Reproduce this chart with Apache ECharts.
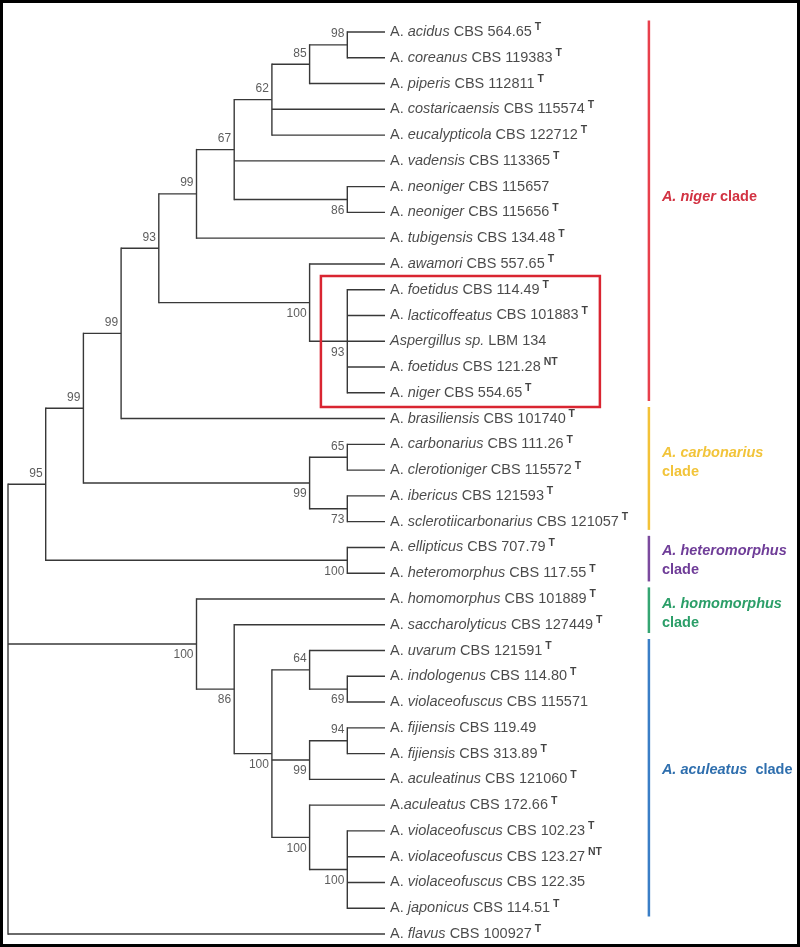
<!DOCTYPE html>
<html><head><meta charset="utf-8">
<script src="https://cdn.jsdelivr.net/npm/echarts@6/dist/echarts.min.js"></script>
<style>html,body{margin:0;padding:0;background:#fff}#c{width:800px;height:947px}</style>
</head><body><div id="c"></div>
<script>
// ---------- DATA ----------
const leafPrefix = ['A. ','A. ','A. ','A. ','A. ','A. ','A. ','A. ','A. ','A. ','A. ','A. ','','A. ','A. ','A. ','A. ','A. ','A. ','A. ','A. ','A. ','A. ','A. ','A. ','A. ','A. ','A. ','A. ','A. ','A.','A. ','A. ','A. ','A. ','A. '];
const leafEpithet = ['acidus','coreanus','piperis','costaricaensis','eucalypticola','vadensis','neoniger','neoniger','tubigensis','awamori','foetidus','lacticoffeatus','Aspergillus sp.','foetidus','niger','brasiliensis','carbonarius','clerotioniger','ibericus','sclerotiicarbonarius','ellipticus','heteromorphus','homomorphus','saccharolyticus','uvarum','indologenus','violaceofuscus','fijiensis','fijiensis','aculeatinus','aculeatus','violaceofuscus','violaceofuscus','violaceofuscus','japonicus','flavus'];
const leafStrain = ['CBS 564.65','CBS 119383','CBS 112811','CBS 115574','CBS 122712','CBS 113365','CBS 115657','CBS 115656','CBS 134.48','CBS 557.65','CBS 114.49','CBS 101883','LBM 134','CBS 121.28','CBS 554.65','CBS 101740','CBS 111.26','CBS 115572','CBS 121593','CBS 121057','CBS 707.79','CBS 117.55','CBS 101889','CBS 127449','CBS 121591','CBS 114.80','CBS 115571','CBS 119.49','CBS 313.89','CBS 121060','CBS 172.66','CBS 102.23','CBS 123.27','CBS 122.35','CBS 114.51','CBS 100927'];
const leafType = ['T','T','T','T','T','T','','T','T','T','T','T','','NT','T','T','T','T','T','T','T','T','T','T','T','T','','','T','T','T','T','NT','','T','T'];
// topology (leaf indices) with bootstrap support values
const newick = '((((((((((0,1)98,2)85,3,4)62,5,(6,7)86)67,8)99,(9,(10,11,12,13,14)93)100)93,15)99,((16,17)65,(18,19)73)99)99,(20,21)100)95,(22,(23,((24,(25,26)69)64,((27,28)94,29)99,(30,(31,32,33,34)100)100)100)86)100,35)';
// side of support label (a = above branch, b = below), internal nodes in postorder
const supportSide = ['a','a','a','b','a','a','b','b','a','a','a','b','b','a','b','a','b','a','a','b','b','b','b','b','b'];
// clades: leaf ranges, names
const cladeStart = [0, 15, 20, 22, 24];
const cladeEnd   = [14, 19, 21, 23, 34];
const cladeName  = ['A. niger','A. carbonarius','A. heteromorphus','A. homomorphus','A. aculeatus'];
const cladeSep   = [' ', '\n', '\n', '\n', '  '];
const cladeLabelRow = [6.4, 16.7, 20.5, 22.55, 28.65];
const cladeBarColor = ['#e8404c','#f3c238','#7b4a9e','#35a572','#3a7ec6'];
const cladeTextColor = ['#d23242','#f2c43a','#6f3d98','#2b9e68','#2f6fae'];
// highlighted group (red box) in leaf rows
const boxRows = [9.47, 14.55];
const boxCols = [8.3, 15.7];

// ---------- TREE LAYOUT ----------
function parse(s){
  let i = 0;
  function node(){
    if (s[i] === '('){
      i++; const kids = [];
      while (true){
        kids.push(node());
        if (s[i] === ','){ i++; continue; }
        if (s[i] === ')'){ i++; break; }
      }
      let num = ''; while (i < s.length && /[0-9]/.test(s[i])) num += s[i++];
      return {children: kids, support: num === '' ? null : +num};
    }
    let num = ''; while (/[0-9]/.test(s[i])) num += s[i++];
    return {leaf: +num};
  }
  return node();
}
const root = parse(newick);
const internal = [];
function layout(n){
  if (n.leaf !== undefined){ n.h = 0; n.y = n.leaf; return; }
  n.children.forEach(layout);
  n.h = Math.max(...n.children.map(c => c.h)) + 1;
  const ys = n.children.map(c => c.y);
  n.y = (Math.min(...ys) + Math.max(...ys)) / 2;
  internal.push(n);
}
layout(root);
const H = root.h;
function px(n){ return H - n.h; }
const segments = [];
internal.forEach(n => {
  const ys = n.children.map(c => c.y);
  segments.push([px(n), Math.min(...ys), px(n), Math.max(...ys), 1]);
  n.children.forEach(c => segments.push([px(n), c.y, px(c), c.y, 0]));
});
const supportData = [];
internal.forEach((n, k) => {
  if (n.support == null) return;
  supportData.push({value: [px(n), n.y, n.support], label: {offset: [0, supportSide[k] === 'a' ? -11 : 11]}});
});
const leafData = leafEpithet.map((e, i) => [H, i]);

const baseFont = {fontSize: 14.5, fontFamily: 'Liberation Sans', color: '#1c1c1c', lineHeight: 20};
const chart = echarts.init(document.getElementById('c'));
chart.setOption({
  animation: false,
  backgroundColor: '#fff',
  grid: {left: 8, right: 415, top: 32, bottom: 13},
  xAxis: {type: 'value', min: 0, max: H, show: false},
  yAxis: {type: 'value', min: 0, max: leafEpithet.length - 1, inverse: true, show: false},
  graphic: [{type: 'rect', shape: {x: 1.5, y: 1.5, width: 797, height: 944}, style: {fill: null, stroke: '#000', lineWidth: 3}, silent: true}],
  series: [
    {
      type: 'custom', name: 'tree', clip: false, silent: true,
      encode: {x: [0, 2], y: [1, 3]},
      data: segments,
      renderItem(params, api){
        const p1 = api.coord([api.value(0), api.value(1)]);
        const p2 = api.coord([api.value(2), api.value(3)]);
        return {type: 'line', shape: {x1: p1[0], y1: p1[1], x2: p2[0], y2: p2[1]},
          style: {stroke: '#383838', lineWidth: 1.4, lineCap: api.value(4) ? 'square' : 'butt'}};
      }
    },
    {
      type: 'scatter', name: 'leaves', silent: true, symbolSize: 0,
      data: leafData,
      label: {
        show: true, position: 'right', distance: 5,
        formatter: p => {
          const i = p.dataIndex;
          let s = '';
          if (leafPrefix[i]) s += '{p|' + leafPrefix[i] + '}';
          s += '{e|' + leafEpithet[i] + '}{s| ' + leafStrain[i] + '}';
          if (leafType[i]) s += '{t| ' + leafType[i] + '}';
          return s;
        },
        rich: {
          p: Object.assign({}, baseFont),
          e: Object.assign({}, baseFont, {fontStyle: 'italic'}),
          s: Object.assign({}, baseFont),
          t: {fontSize: 10.5, fontWeight: 'bold', fontFamily: 'Liberation Sans', color: '#111', verticalAlign: 'top', lineHeight: 12}
        }
      }
    },
    {
      type: 'scatter', name: 'support', silent: true, symbolSize: 0,
      data: supportData,
      label: {show: true, position: 'left', distance: 3, formatter: p => p.value[2],
        fontSize: 12, fontFamily: 'Liberation Sans', color: '#333'}
    },
    {
      type: 'custom', name: 'box', clip: false, silent: true,
      data: [[boxCols[0], boxRows[0], boxCols[1], boxRows[1]]],
      encode: {x: [0, 2], y: [1, 3]},
      renderItem(params, api){
        const a = api.coord([api.value(0), api.value(1)]);
        const b = api.coord([api.value(2), api.value(3)]);
        return {type: 'rect', shape: {x: a[0], y: a[1], width: b[0] - a[0], height: b[1] - a[1]},
          style: {fill: null, stroke: '#d92531', lineWidth: 2.5}};
      }
    },
    {
      type: 'custom', name: 'clades', clip: false, silent: true,
      data: cladeStart.map((s, i) => [17, s - 0.45, cladeEnd[i] + 0.32, cladeLabelRow[i], i]),
      encode: {x: 0, y: [1, 2]},
      renderItem(params, api){
        const i = api.value(4);
        const a = api.coord([api.value(0), api.value(1)]);
        const b = api.coord([api.value(0), api.value(2)]);
        const t = api.coord([api.value(0), api.value(3)]);
        const f = {fontSize: 14.5, fontWeight: 'bold', fontFamily: 'Liberation Sans', fill: cladeTextColor[i], lineHeight: 19};
        return {type: 'group', children: [
          {type: 'line', shape: {x1: a[0], y1: a[1], x2: b[0], y2: b[1]}, style: {stroke: cladeBarColor[i], lineWidth: 2.5}},
          {type: 'text', x: t[0] + 13, y: t[1], style: Object.assign({
            text: '{i|' + cladeName[i] + '}' + cladeSep[i] + 'clade',
            align: 'left', verticalAlign: 'middle',
            rich: {i: Object.assign({}, f, {fontStyle: 'italic'})}
          }, f)}
        ]};
      }
    }
  ]
});
</script></body></html>
